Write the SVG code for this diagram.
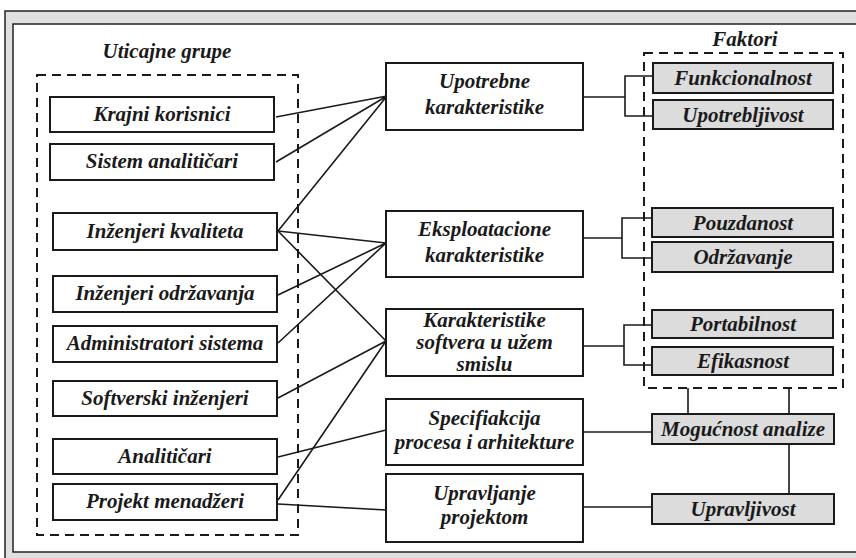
<svg xmlns="http://www.w3.org/2000/svg" width="856" height="558" viewBox="0 0 856 558">
<style>
.t{font-family:"Liberation Serif","Times New Roman",serif;font-weight:bold;font-style:italic;font-size:21px;fill:#1a1a1a;text-anchor:middle}
.b{fill:#fff;stroke:#1a1a1a;stroke-width:2}
.g{fill:#dcdcdc;stroke:#1a1a1a;stroke-width:2}
.d{fill:none;stroke:#1a1a1a;stroke-width:2;stroke-dasharray:9 6}
.c{fill:none;stroke:#1a1a1a;stroke-width:1.6}
</style>
<rect x="5" y="11" width="870" height="560" fill="#e0e0e0" stroke="#222" stroke-width="1.5"/>
<rect x="13" y="24" width="860" height="528" fill="#fff" stroke="#222" stroke-width="1.5"/>

<g id="grp-uticajne">
<rect class="d" x="37" y="75" width="261" height="460"/>
<text class="t" x="167" y="58">Uticajne grupe</text>
</g>
<g id="grp-faktori">
<rect class="d" x="644" y="53" width="199" height="335"/>
<text class="t" x="745" y="46">Faktori</text>
</g>

<g id="connectors">
<path class="c" d="M276 117L387 96M276 162L387 96M278 231L387 96"/>
<path class="c" d="M278 231L386 243M278 295L386 243M278 343L386 243"/>
<path class="c" d="M278 231L386 341M278 398L386 341M278 500L386 341"/>
<path class="c" d="M278 457L386 430"/>
<path class="c" d="M278 504L386 510"/>
<path class="c" d="M583 97H625" stroke-width="2"/>
<path class="c" d="M653 76H625V116H653"/>
<path class="c" d="M583 238H622" stroke-width="2"/>
<path class="c" d="M652 218H622V258H652"/>
<path class="c" d="M583 346H624" stroke-width="2"/>
<path class="c" d="M652 325H624V365H652"/>
<path class="c" d="M583 432H652"/>
<path class="c" d="M583 507H652"/>
<path class="c" d="M688 388V414M789 388V414M789 444V494"/>
</g>

<g id="n-krajni"><rect class="b" x="50" y="97" width="224" height="35"/><text class="t" x="162" y="121">Krajni korisnici</text></g>
<g id="n-sistem"><rect class="b" x="50" y="144" width="224" height="36"/><text class="t" x="162" y="168">Sistem analitičari</text></g>
<g id="n-kvalitet"><rect class="b" x="53" y="213" width="224" height="37"/><text class="t" x="165" y="238">Inženjeri kvaliteta</text></g>
<g id="n-odrz"><rect class="b" x="53" y="276" width="224" height="36"/><text class="t" x="165" y="300">Inženjeri održavanja</text></g>
<g id="n-admin"><rect class="b" x="53" y="326" width="224" height="36"/><text class="t" x="165" y="350">Administratori sistema</text></g>
<g id="n-softv"><rect class="b" x="53" y="381" width="224" height="35"/><text class="t" x="165" y="405">Softverski inženjeri</text></g>
<g id="n-anal"><rect class="b" x="53" y="439" width="224" height="35"/><text class="t" x="165" y="463">Analitičari</text></g>
<g id="n-pm"><rect class="b" x="53" y="484" width="224" height="36"/><text class="t" x="165" y="508">Projekt menadžeri</text></g>

<g id="m-upotr"><rect class="b" x="386" y="63" width="197" height="67"/><text class="t" x="484.5" y="88">Upotrebne</text><text class="t" x="484.5" y="114">karakteristike</text></g>
<g id="m-eksp"><rect class="b" x="386" y="211" width="197" height="66"/><text class="t" x="484.5" y="236">Eksploatacione</text><text class="t" x="484.5" y="262">karakteristike</text></g>
<g id="m-kar"><rect class="b" x="386" y="309" width="197" height="67"/><text class="t" x="484.5" y="327">Karakteristike</text><text class="t" x="484.5" y="349">softvera u užem</text><text class="t" x="484.5" y="371">smislu</text></g>
<g id="m-spec"><rect class="b" x="386" y="399" width="197" height="66"/><text class="t" x="484.5" y="425">Specifiakcija</text><text class="t" x="484.5" y="449">procesa i arhitekture</text></g>
<g id="m-uprp"><rect class="b" x="386" y="474" width="197" height="68"/><text class="t" x="484.5" y="500">Upravljanje</text><text class="t" x="484.5" y="524">projektom</text></g>

<g id="f-funk"><rect class="g" x="653" y="63" width="180" height="30"/><text class="t" x="743" y="85">Funkcionalnost</text></g>
<g id="f-upotr"><rect class="g" x="653" y="100" width="180" height="29"/><text class="t" x="743" y="122">Upotrebljivost</text></g>
<g id="f-pouz"><rect class="g" x="652" y="208" width="181" height="29"/><text class="t" x="743" y="230">Pouzdanost</text></g>
<g id="f-odrz"><rect class="g" x="652" y="242" width="181" height="30"/><text class="t" x="743" y="264">Održavanje</text></g>
<g id="f-port"><rect class="g" x="652" y="310" width="181" height="28"/><text class="t" x="743" y="331">Portabilnost</text></g>
<g id="f-efik"><rect class="g" x="652" y="347" width="181" height="28"/><text class="t" x="743" y="368">Efikasnost</text></g>
<g id="f-mog"><rect class="g" x="652" y="414" width="182" height="30"/><text class="t" x="743" y="436">Mogućnost analize</text></g>
<g id="f-uprv"><rect class="g" x="652" y="494" width="182" height="30"/><text class="t" x="743" y="516">Upravljivost</text></g>
</svg>
